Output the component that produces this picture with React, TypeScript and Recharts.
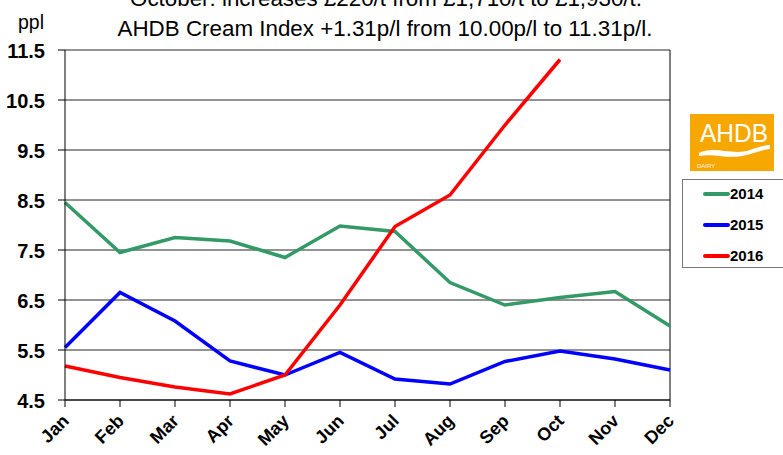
import React from "react";
import { LineChart, Line, XAxis, YAxis, CartesianGrid, ReferenceLine } from "recharts";

const months = ["Jan", "Feb", "Mar", "Apr", "May", "Jun", "Jul", "Aug", "Sep", "Oct", "Nov", "Dec"];
const s2014 = [8.45, 7.45, 7.75, 7.68, 7.35, 7.98, 7.87, 6.85, 6.4, 6.55, 6.67, 5.98];
const s2015 = [5.55, 6.65, 6.08, 5.28, 5.0, 5.45, 4.92, 4.82, 5.27, 5.48, 5.32, 5.1];
const s2016: (number | null)[] = [5.18, 4.95, 4.76, 4.62, 5.0, 6.4, 7.97, 8.6, 10.0, 11.31, null, null];
const yTicks = [4.5, 5.5, 6.5, 7.5, 8.5, 9.5, 10.5, 11.5];
const titleLine1 = "October: increases £220/t from £1,710/t to £1,930/t.";
const titleLine2 = "AHDB Cream Index +1.31p/l from 10.00p/l to 11.31p/l.";
const unitLabel = "ppl";

const seriesDefs = [
  { key: "2014", color: "#339966" },
  { key: "2015", color: "#0000FF" },
  { key: "2016", color: "#FF0000" },
];

const data = months.map((m, i) => ({
  month: m,
  "2014": s2014[i],
  "2015": s2015[i],
  "2016": s2016[i],
}));

const FONT = "'Liberation Sans', Arial, sans-serif";

const XTick = (props: any) => {
  const { x, y, payload } = props;
  return (
    <text
      x={x + 5}
      y={y + 13}
      transform={`rotate(-45, ${x + 5}, ${y + 13})`}
      textAnchor="end"
      fontFamily={FONT}
      fontWeight="bold"
      fontSize={18}
      fill="#000"
    >
      {payload.value}
    </text>
  );
};

const YTick = (props: any) => {
  const { payload, y } = props;
  return (
    <text x={45} y={y + 8} textAnchor="end" fontFamily={FONT} fontWeight="bold" fontSize={20} fill="#000">
      {Number(payload.value).toFixed(1)}
    </text>
  );
};

export default function App() {
  return (
    <div style={{ position: "absolute", left: 0, top: 0, width: 783, height: 455, background: "#fff", overflow: "hidden" }}>
      <LineChart width={783} height={455} data={data} margin={{ top: 50, right: 113, bottom: 0, left: 0 }}>
        <CartesianGrid horizontal={true} vertical={false} stroke="#000" strokeOpacity={0.85} />
        <XAxis
          dataKey="month"
          tick={<XTick />}
          tickSize={7}
          axisLine={{ stroke: "#000" }}
          tickLine={{ stroke: "#000" }}
          interval={0}
          height={55}
        />
        <YAxis
          domain={[4.5, 11.5]}
          ticks={yTicks}
          tick={<YTick />}
          tickSize={7}
          width={65}
          axisLine={{ stroke: "#000" }}
          tickLine={{ stroke: "#000" }}
          interval={0}
        />
        <ReferenceLine x="Dec" stroke="#000" />
        {seriesDefs.map((s) => (
          <Line
            key={s.key}
            type="linear"
            dataKey={s.key}
            stroke={s.color}
            strokeWidth={3.5}
            dot={false}
            activeDot={false}
            isAnimationActive={false}
            connectNulls={false}
          />
        ))}
      </LineChart>
      <div
        style={{
          position: "absolute",
          left: 682,
          top: 179,
          width: 104,
          height: 89,
          border: "1px solid #777",
          background: "#fff",
          boxSizing: "border-box",
          fontFamily: FONT,
        }}
      >
        {seriesDefs.map((s, i) => (
          <div key={s.key} style={{ position: "absolute", left: 20, top: 5 + i * 31, display: "flex", alignItems: "center" }}>
            <div style={{ width: 27, height: 4, background: s.color, borderRadius: 2 }} />
            <span style={{ fontWeight: "bold", fontSize: 15, color: "#000", lineHeight: "18px" }}>{s.key}</span>
          </div>
        ))}
      </div>
      <svg width={783} height={455} style={{ position: "absolute", left: 0, top: 0, pointerEvents: "none" }}>
        <text x={386} y={6} textAnchor="middle" fontFamily={FONT} fontSize={22} fill="#000" textLength={512} lengthAdjust="spacingAndGlyphs">
          {titleLine1}
        </text>
        <text x={385} y={36} textAnchor="middle" fontFamily={FONT} fontSize={22} fill="#000" textLength={535} lengthAdjust="spacingAndGlyphs">
          {titleLine2}
        </text>
        <text x={31} y={29} textAnchor="middle" fontFamily={FONT} fontSize={20} fill="#000" textLength={26} lengthAdjust="spacingAndGlyphs">
          {unitLabel}
        </text>
        <g>
          <rect x={690} y={114} width={84} height={57} fill="#F6A800" />
          <text x={734} y={142} textAnchor="middle" fontFamily={FONT} fontSize={25} fill="#fff" textLength={68} lengthAdjust="spacingAndGlyphs">
            AHDB
          </text>
          <path d="M699 153 C 714 145, 732 156, 750 150 C 759 147, 766 145, 770 145 L 770 149 C 760 150, 753 154, 742 156 C 726 159, 714 153, 699 156 Z" fill="#fff" />
          <text x={697} y={168} fontFamily={FONT} fontSize={6} fill="#fff" opacity={0.9}>
            DAIRY
          </text>
        </g>
      </svg>
    </div>
  );
}
